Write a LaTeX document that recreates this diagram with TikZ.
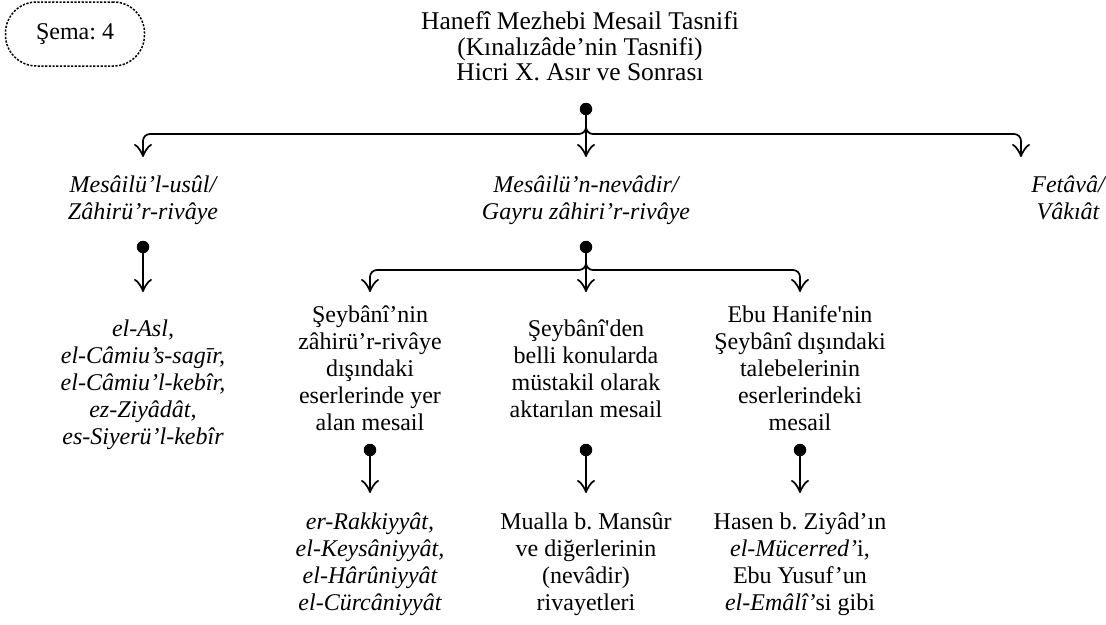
\documentclass[tikz,border=0pt]{standalone}
\usepackage{fontspec}
\setmainfont{Liberation Serif}
\usetikzlibrary{arrows.meta}
\frenchspacing
\begin{document}
\begin{tikzpicture}[x=1pt,y=-1pt,
  txt/.style={inner sep=0pt, align=center, font=\fontsize{24}{27}\selectfont},
  it/.style={inner sep=0pt, align=center, font=\fontsize{24}{27}\selectfont\itshape},
  ttl/.style={inner sep=0pt, align=center, font=\fontsize{25.5}{25.8}\selectfont},
  tip/.tip={Classical TikZ Rightarrow[length=13pt,width=18pt,line width=1.7pt]},
  conn/.style={line width=1.7pt, rounded corners=7pt, -tip},
  dot/.style={circle, fill=black, inner sep=0pt, minimum size=12.5pt},
  badge/.style={draw, line width=1.5pt, dash pattern=on 2.2pt off 1.5pt, rounded corners=31pt, minimum width=139pt, minimum height=64pt}
]
\useasboundingbox (0,0) rectangle (1106,624);

\node[badge, txt] (badge) at (75,34) {Şema: 4};
\node[ttl, anchor=north] (title) at (580,11) {\strut Hanefî Mezhebi Mesail Tasnifi\\(Kınalızâde’nin Tasnifi)\\Hicri X. Asır ve Sonrası};

% level 1
\node[dot] (d1) at (586,109) {};
\coordinate (bar1) at (0,134);
\coordinate (t3) at (1021,157);
\node[it, anchor=north, outer ysep=17pt] (L2a) at (143,157) {\strut Mesâilü’l-usûl/\\Zâhirü’r-rivâye};
\node[it, anchor=north, outer ysep=17pt] (L2b) at (586,157) {\strut Mesâilü’n-nevâdir/\\Gayru zâhiri’r-rivâye};
\node[it, anchor=north, outer ysep=17pt] (L2c) at (1068,157) {\strut Fetâvâ/\\Vâkıât};
\draw[conn] (d1.center) -- (d1 |- bar1) -| (L2a.north);
\draw[conn] (d1.center) -- (d1 |- bar1) -| (t3);
\draw[conn] (d1.center) -- (L2b.north);

% left branch
\node[dot] (d2a) at (143,247) {};
\node[it, anchor=north, outer ysep=26pt] (Lst) at (143,292) {\strut el-Asl,\\el-Câmiu’s-sagīr,\\el-Câmiu’l-kebîr,\\ez-Ziyâdât,\\es-Siyerü’l-kebîr};
\draw[conn] (d2a.center) -- (Lst.north);

% middle branch
\node[dot] (d2b) at (586,247) {};
\coordinate (bar2) at (0,270);
\node[txt, anchor=north, outer ysep=12pt] (C1) at (370,292) {\strut Şeybânî’nin\\zâhirü’r-rivâye\\dışındaki\\eserlerinde yer\\alan mesail};
\node[txt, anchor=north, outer ysep=26pt] (C2) at (586,292) {\strut Şeybânî\textquotesingle den\\belli konularda\\müstakil olarak\\aktarılan mesail};
\node[txt, anchor=north, outer ysep=12pt] (C3) at (800,292) {\strut Ebu Hanife\textquotesingle nin\\Şeybânî dışındaki\\talebelerinin\\eserlerindeki\\mesail};
\draw[conn] (d2b.center) -- (d2b |- bar2) -| (C1.north);
\draw[conn] (d2b.center) -- (d2b |- bar2) -| (C3.north);
\draw[conn] (d2b.center) -- (C2.north);

% bottom
\node[dot] (d3a) at (370,450) {};
\node[dot] (d3b) at (586,450) {};
\node[dot] (d3c) at (800,450) {};
\node[it, anchor=north, outer ysep=18pt] (B1) at (370,493) {\strut er-Rakkiyyât,\\el-Keysâniyyât,\\el-Hârûniyyât\\el-Cürcâniyyât};
\node[txt, anchor=north, outer ysep=18pt] (B2) at (586,493) {\strut Mualla b. Mansûr\\ve diğerlerinin\\(nevâdir)\\rivayetleri};
\node[txt, anchor=north, outer ysep=18pt] (B3) at (800,493) {\strut Hasen b. Ziyâd’ın\\\textit{el-Mücerred’}i,\\Ebu Yusuf’un\\\textit{el-Emâlî’}si gibi};
\draw[conn] (d3a.center) -- (B1.north);
\draw[conn] (d3b.center) -- (B2.north);
\draw[conn] (d3c.center) -- (B3.north);
\end{tikzpicture}
\end{document}
